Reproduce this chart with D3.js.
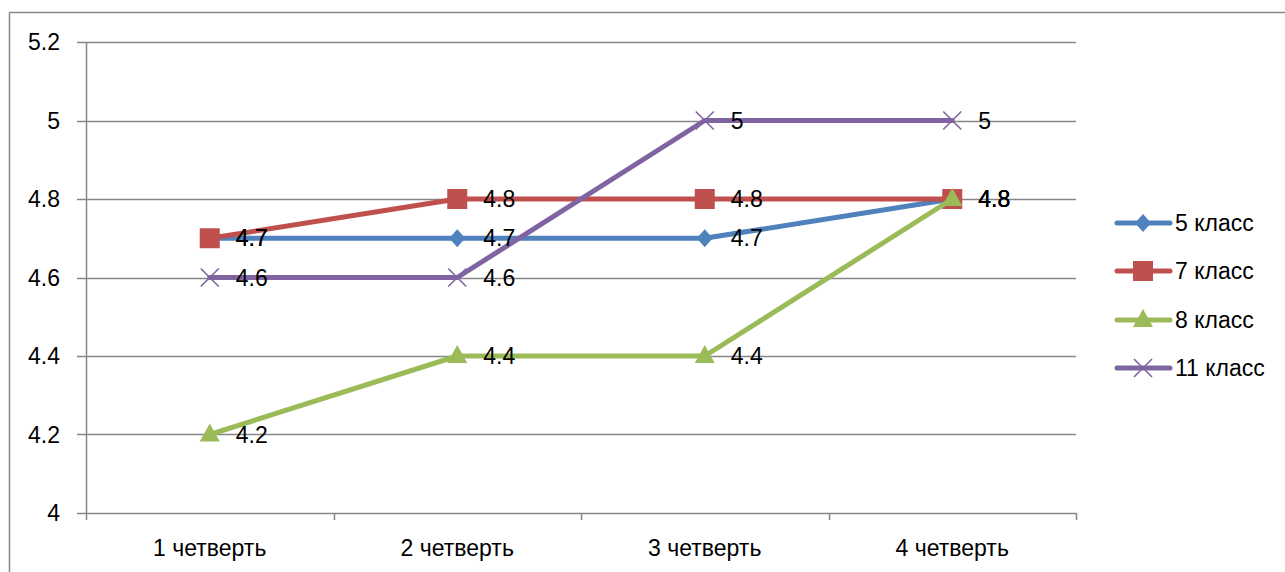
<!DOCTYPE html>
<html><head><meta charset="utf-8">
<script src="https://cdn.jsdelivr.net/npm/d3@7"></script>
<style>
html,body{margin:0;padding:0;background:#fff;}
svg text{font-family:"Liberation Sans",Arial,sans-serif;fill:#000;}
</style></head>
<body><svg id="c" width="1285" height="572"></svg>
<script>
const categories = ["1 четверть","2 четверть","3 четверть","4 четверть"];
const seriesNames = ["5 класс","7 класс","8 класс","11 класс"];
const values5 = [4.7, 4.7, 4.7, 4.8];
const values7 = [4.7, 4.8, 4.8, 4.8];
const values8 = [4.2, 4.4, 4.4, 4.8];
const values11 = [4.6, 4.6, 5, 5];
const yTicks = [4, 4.2, 4.4, 4.6, 4.8, 5, 5.2];
const colors = ["#4F81BD","#C0504D","#9BBB59","#8064A2"];
const markerTypes = ["diamond","square","triangle","x"];
const allValues = [values5, values7, values8, values11];

const FS = "23px";
const svg = d3.select("#c");
// outer frame
svg.append("rect").attr("x",9.5).attr("y",12.5).attr("width",1300).attr("height",600)
  .attr("fill","none").attr("stroke","#898989").attr("stroke-width",1.5);

const L=86, R=1076, T=42, B=513;
const x = d3.scaleBand().domain(categories).range([L,R]);
const y = d3.scaleLinear().domain([4,5.2]).range([B,T]);

// gridlines
svg.append("g").selectAll("line").data(yTicks).join("line")
  .attr("x1",L-9).attr("x2",R).attr("y1",d=>Math.round(y(d))+0.5).attr("y2",d=>Math.round(y(d))+0.5)
  .attr("stroke","#868686").attr("stroke-width",1.5);
// y axis line
svg.append("line").attr("x1",L+0.5).attr("x2",L+0.5).attr("y1",T).attr("y2",B+7)
  .attr("stroke","#868686").attr("stroke-width",1.5);
// x ticks
const xt = categories.map(c=>x(c)).concat([R]);
svg.append("g").selectAll("line").data(xt.slice(1)).join("line")
  .attr("x1",d=>Math.round(d)+0.5).attr("x2",d=>Math.round(d)+0.5).attr("y1",B).attr("y2",B+7)
  .attr("stroke","#868686").attr("stroke-width",1.5);
// y labels
svg.append("g").selectAll("text").data(yTicks).join("text")
  .attr("x",60).attr("y",d=>y(d)).attr("dy","0.35em").attr("text-anchor","end")
  .style("font-size",FS).text(d=>d);
// x labels
svg.append("g").selectAll("text").data(categories).join("text")
  .attr("x",d=>x(d)+x.bandwidth()/2).attr("y",548).attr("dy","0.35em").attr("text-anchor","middle")
  .style("font-size",FS).text(d=>d);

function marker(g, i, cx, cy){
  const c = colors[i];
  const t = markerTypes[i];
  if(t==="x"){
    const s=9;
    g.append("path").attr("d",`M${cx-s},${cy-s}L${cx+s},${cy+s}M${cx-s},${cy+s}L${cx+s},${cy-s}`)
      .attr("stroke",c).attr("stroke-width",1.6).attr("fill","none");
  } else if(t==="diamond"){
    g.append("path").attr("d",`M${cx},${cy-9}L${cx+8},${cy}L${cx},${cy+9}L${cx-8},${cy}Z`).attr("fill",c);
  } else if(t==="square"){
    g.append("rect").attr("x",cx-10).attr("y",cy-10).attr("width",20).attr("height",20).attr("fill",c);
  } else {
    g.append("path").attr("d",`M${cx},${cy-11}L${cx+10},${cy+7}L${cx-10},${cy+7}Z`).attr("fill",c);
  }
}

const line = d3.line().x((d,j)=>x(categories[j])+x.bandwidth()/2).y(d=>y(d));
allValues.forEach((vals,i)=>{
  const g = svg.append("g");
  g.append("path").datum(vals).attr("d",line).attr("fill","none")
    .attr("stroke",colors[i]).attr("stroke-width",5).attr("stroke-linejoin","round").attr("stroke-linecap","round");
  vals.forEach((v,j)=>marker(g,i,x(categories[j])+x.bandwidth()/2,y(v)));
});
// data labels
allValues.forEach((vals,i)=>{
  svg.append("g").selectAll("text").data(vals).join("text")
    .attr("x",(d,j)=>x(categories[j])+x.bandwidth()/2+26).attr("y",d=>y(d)).attr("dy","0.35em")
    .style("font-size",FS).text(d=>d);
});

// legend
const ly = [223,271,320,368];
seriesNames.forEach((n,i)=>{
  const g = svg.append("g");
  g.append("line").attr("x1",1117).attr("x2",1170).attr("y1",ly[i]).attr("y2",ly[i])
    .attr("stroke",colors[i]).attr("stroke-width",5).attr("stroke-linecap","round");
  marker(g,i,1143,ly[i]);
  g.append("text").attr("x",1175).attr("y",ly[i]).attr("dy","0.35em").style("font-size",FS).text(n);
});
</script></body></html>
